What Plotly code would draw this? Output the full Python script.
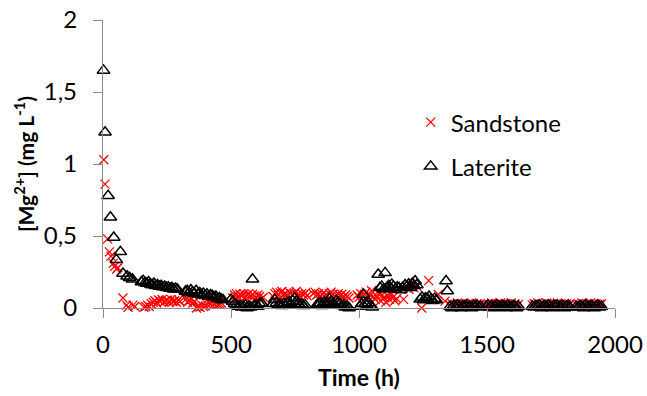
import plotly.graph_objects as go

# Sampling times (h) and Mg2+ concentrations (mg/L) for the sandstone column
sandstone_time = [
    3, 8, 18, 25, 31, 40, 46, 53, 58, 78, 92, 98, 117, 124, 160, 167, 174, 181, 188,
    196, 203, 210, 217, 224, 231, 238, 245, 252, 259, 266, 273, 280, 287, 294, 301,
    323, 330, 337, 344, 351, 358, 365, 372, 379, 386, 393, 400, 407, 414, 421, 428,
    435, 442, 449, 456, 463,
    507, 514, 521, 528, 535, 542, 549, 556, 563, 570, 577, 584, 591, 598, 605, 612, 619, 626,
    664, 671, 678, 685, 692, 699, 706, 713, 720, 727, 734, 741, 748, 755, 762, 769, 776,
    783, 790, 797,
    821, 828, 835, 842, 849, 856, 863, 870, 877, 884, 891, 898, 905, 912, 919, 926, 933,
    940, 947, 954, 961,
    993, 1000, 1007, 1014, 1021, 1028, 1035, 1042, 1049, 1056,
    1063, 1070, 1077, 1084, 1091, 1098, 1105, 1112, 1119, 1126, 1133, 1140, 1147,
    1174, 1195, 1205, 1215, 1226, 1245, 1272, 1310, 1336,
    1356, 1363, 1370, 1377, 1384, 1391, 1398, 1405, 1412, 1419, 1426, 1433, 1440, 1447,
    1454, 1461, 1468, 1475,
    1497, 1504, 1511, 1518, 1525, 1532, 1539, 1546, 1553, 1560, 1567, 1574, 1581, 1588,
    1595, 1602, 1609, 1616, 1623,
    1677, 1684, 1691, 1698, 1705, 1712, 1719, 1726, 1733, 1740, 1747, 1754, 1761, 1768,
    1775, 1782, 1789, 1796, 1803, 1810, 1817, 1824,
    1849, 1856, 1863, 1870, 1877, 1884, 1891, 1898, 1905, 1912, 1919, 1926, 1933, 1940, 1947,
]
sandstone_mg = [
    1.03, 0.86, 0.48, 0.39, 0.36, 0.31, 0.29, 0.27, 0.28, 0.07, 0.02, 0.005, 0.02, 0.01,
    0.005, 0.01, 0.02, 0.01, 0.03,
    0.04, 0.05, 0.035, 0.055, 0.045, 0.06, 0.04, 0.05, 0.055, 0.04, 0.06, 0.045, 0.05,
    0.04, 0.055, 0.045,
    0.06, 0.04, 0.05, 0.06, 0.035, 0.045, 0.0, 0.01, 0.005, 0.02, 0.01, 0.015, 0.025,
    0.035, 0.03, 0.04, 0.03, 0.035, 0.025, 0.03, 0.035,
    0.07, 0.09, 0.1, 0.08, 0.095, 0.085, 0.1, 0.075, 0.09, 0.1, 0.08, 0.095, 0.085, 0.07,
    0.09, 0.08, 0.065, 0.075,
    0.08, 0.1, 0.11, 0.09, 0.105, 0.115, 0.095, 0.1, 0.085, 0.11, 0.1, 0.09, 0.105, 0.115,
    0.095, 0.08, 0.1, 0.09, 0.105, 0.085,
    0.1, 0.11, 0.09, 0.1, 0.08, 0.095, 0.105, 0.09, 0.085, 0.1, 0.11, 0.095, 0.08, 0.09,
    0.1, 0.085, 0.095, 0.075, 0.09, 0.08, 0.07,
    0.09, 0.075, 0.1, 0.085, 0.095, 0.11, 0.07, 0.09, 0.12, 0.08,
    0.06, 0.08, 0.1, 0.05, 0.09, 0.07, 0.04, 0.085, 0.06, 0.095, 0.075, 0.05, 0.065,
    0.06, 0.13, 0.16, 0.14, 0.15, 0.0, 0.19, 0.094, 0.048,
    0.02, 0.03, 0.015, 0.025, 0.035, 0.02, 0.01, 0.03, 0.025, 0.015, 0.03, 0.02, 0.035,
    0.025, 0.015, 0.03, 0.02, 0.025,
    0.025, 0.03, 0.02, 0.035, 0.015, 0.025, 0.03, 0.02, 0.035, 0.025, 0.015, 0.03, 0.02,
    0.025, 0.035, 0.02, 0.03, 0.015, 0.025,
    0.02, 0.03, 0.025, 0.035, 0.015, 0.025, 0.03, 0.02, 0.035, 0.025, 0.015, 0.03, 0.02,
    0.025, 0.035, 0.02, 0.03, 0.015, 0.025, 0.03, 0.02, 0.025,
    0.025, 0.03, 0.02, 0.035, 0.015, 0.025, 0.03, 0.02, 0.035, 0.025, 0.015, 0.03, 0.02,
    0.025, 0.03,
]

# Sampling times (h) and Mg2+ concentrations (mg/L) for the laterite column
laterite_time = [
    2, 8, 20, 29, 42, 52, 68, 78, 94, 104, 115,
    150, 157, 164, 171, 178, 185, 192, 199, 206, 213, 220, 227, 234, 241, 248, 255, 262,
    269, 276, 283, 290,
    322, 329, 336, 343, 350, 357, 364, 371, 378, 385, 392, 399, 406, 413, 420, 427, 434,
    441, 448, 455, 462, 469,
    500, 507, 514, 521, 528, 535, 542, 549, 556, 563, 570, 577, 584, 591, 598, 605, 612, 619,
    664, 671, 678, 685, 692, 699, 706, 713, 720, 727, 734, 741, 748, 755, 762, 769, 776,
    783, 790,
    835, 842, 849, 856, 863, 870, 877, 884, 891, 898, 905, 912, 919, 926, 933, 940, 947,
    954, 961,
    1004, 1011, 1017, 1024, 1031, 1038, 1045, 1052,
    1075, 1082, 1089, 1096, 1102, 1109, 1116, 1123, 1128, 1135, 1142, 1149, 1156, 1163, 1170,
    1180, 1187, 1194, 1201, 1208, 1215, 1219, 1226,
    1239, 1246, 1253, 1260, 1267, 1274, 1281, 1288, 1295, 1302,
    1340, 1345,
    1356, 1363, 1370, 1377, 1384, 1391, 1398, 1405, 1412, 1419, 1426, 1433, 1440, 1447,
    1454, 1461, 1468, 1475,
    1497, 1504, 1511, 1518, 1525, 1532, 1539, 1546, 1553, 1560, 1567, 1574, 1581, 1588,
    1595, 1602, 1609, 1616, 1623,
    1677, 1684, 1691, 1698, 1705, 1712, 1719, 1726, 1733, 1740, 1747, 1754, 1761, 1768,
    1775, 1782, 1789, 1796, 1803, 1810, 1817, 1824,
    1849, 1856, 1863, 1870, 1877, 1884, 1891, 1898, 1905, 1912, 1919, 1926, 1933, 1940, 1947,
]
laterite_mg = [
    1.65, 1.22, 0.78, 0.63, 0.49, 0.335, 0.39, 0.24, 0.22, 0.21, 0.2,
    0.18, 0.19, 0.175, 0.17, 0.18, 0.165, 0.16, 0.17, 0.155, 0.16, 0.15, 0.155, 0.145,
    0.15, 0.14, 0.145, 0.135, 0.14, 0.13, 0.135, 0.13,
    0.115, 0.12, 0.105, 0.125, 0.11, 0.1, 0.12, 0.095, 0.105, 0.09, 0.1, 0.085, 0.095,
    0.08, 0.09, 0.085, 0.075, 0.08, 0.065, 0.07, 0.06, 0.055,
    0.06, 0.045, 0.03, 0.02, 0.01, 0.015, 0.005, 0.01, 0.02, 0.0, 0.01, 0.005, 0.2, 0.015,
    0.02, 0.01, 0.03, 0.035,
    0.03, 0.058, 0.035, 0.02, 0.025, 0.015, 0.03, 0.02, 0.035, 0.04, 0.025, 0.05, 0.07,
    0.045, 0.03, 0.02, 0.025, 0.015, 0.02,
    0.02, 0.03, 0.035, 0.015, 0.04, 0.025, 0.03, 0.065, 0.045, 0.035, 0.02, 0.05, 0.04,
    0.03, 0.015, 0.02, 0.005, 0.01, 0.0,
    0.01, 0.03, 0.094, 0.03, 0.025, 0.035, 0.015, 0.005,
    0.233, 0.14, 0.15, 0.13, 0.244, 0.14, 0.155, 0.135, 0.164, 0.15, 0.13, 0.145, 0.14,
    0.125, 0.14,
    0.16, 0.15, 0.165, 0.14, 0.17, 0.155, 0.187, 0.16,
    0.06, 0.075, 0.055, 0.07, 0.065, 0.08, 0.06, 0.05, 0.065, 0.055,
    0.187, 0.118,
    0.01, 0.0, 0.015, 0.005, 0.02, 0.01, 0.0, 0.015, 0.01, 0.02, 0.005, 0.01, 0.0, 0.015,
    0.01, 0.02, 0.005, 0.01,
    0.01, 0.02, 0.005, 0.015, 0.0, 0.01, 0.02, 0.01, 0.005, 0.015, 0.01, 0.0, 0.02, 0.01,
    0.005, 0.015, 0.01, 0.0, 0.01,
    0.01, 0.005, 0.015, 0.01, 0.02, 0.0, 0.01, 0.015, 0.005, 0.02, 0.01, 0.0, 0.015, 0.01,
    0.02, 0.005, 0.01, 0.015, 0.0, 0.01, 0.02, 0.005,
    0.01, 0.005, 0.015, 0.01, 0.0, 0.02, 0.01, 0.005, 0.015, 0.01, 0.0, 0.01, 0.02, 0.005,
    0.01,
]

x_ticks = [0, 500, 1000, 1500, 2000]
y_ticks = [0, 0.5, 1, 1.5, 2]

FONT = "Lato, 'Open Sans', sans-serif"
AXIS_GREY = "#8c8c8c"

fig = go.Figure()
fig.add_trace(go.Scatter(
    x=sandstone_time, y=sandstone_mg, name="Sandstone", mode="markers",
    legendgroup="s",
    marker=dict(symbol="x-thin", size=9, color="#ff0000",
                line=dict(color="#ff0000", width=1.3)),
    cliponaxis=False,
))
fig.add_trace(go.Scatter(
    x=laterite_time, y=laterite_mg, name="Laterite", mode="markers",
    legendgroup="l",
    marker=dict(symbol="triangle-up-open", size=11, color="#000000",
                line=dict(width=1.5)),
    cliponaxis=False,
))

fig.update_layout(
    width=647, height=396,
    margin=dict(l=103, r=32, t=20, b=88),
    paper_bgcolor="white", plot_bgcolor="white",
    font=dict(family=FONT, size=24, color="#000000"),
    separators=", ",
    showlegend=True,
    legend=dict(x=0.601, y=0.722, xanchor="left", yanchor="top",
                bgcolor="rgba(0,0,0,0)", tracegroupgap=10,
                font=dict(size=24), itemwidth=30),
    xaxis=dict(
        range=[0, 2000], tickvals=x_ticks, showgrid=False, zeroline=False,
        automargin=False,
        showline=True, linecolor=AXIS_GREY, linewidth=1.3,
        ticks="outside", ticklen=9, tickcolor=AXIS_GREY, tickwidth=1.3,
        ticklabelstandoff=6,
        title=dict(text="<b>Time (h)</b>", font=dict(size=23), standoff=12),
    ),
    yaxis=dict(
        range=[0, 2], tickvals=y_ticks, showgrid=False, zeroline=False,
        automargin=False,
        showline=True, linecolor=AXIS_GREY, linewidth=1.3,
        ticks="outside", ticklen=9, tickcolor=AXIS_GREY, tickwidth=1.3,
        ticklabelstandoff=11,
        title=dict(text="<b>[Mg<sup>2+</sup>] (mg L<sup>-1</sup>)</b>",
                   font=dict(size=21), standoff=3),
    ),
)

fig.write_html("out.html")
